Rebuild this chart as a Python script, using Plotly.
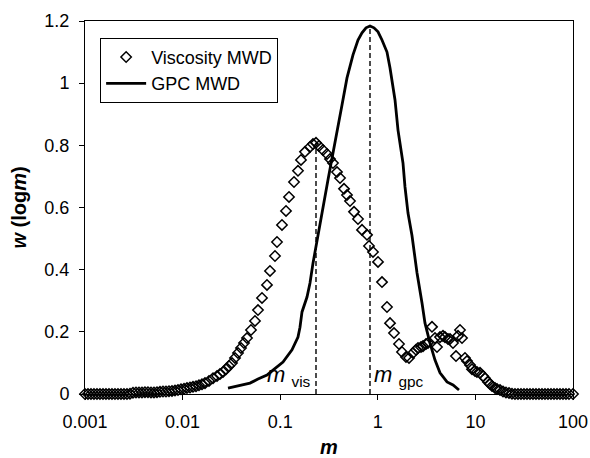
import plotly.graph_objects as go
import numpy as np

# ---- data ----
vis_m = [0.001, 0.001073, 0.001152, 0.001236, 0.001327, 0.001424, 0.001529, 0.001641, 0.001761,
         0.00189, 0.002029, 0.002178, 0.002338, 0.002509, 0.002693, 0.002891, 0.003103, 0.003331,
         0.003575, 0.003837, 0.004118, 0.00442, 0.004745, 0.005093, 0.005466, 0.005867, 0.006298,
         0.00676, 0.007255, 0.007788, 0.008359, 0.008972, 0.00963, 0.01034, 0.01109, 0.01191,
         0.01278, 0.01372, 0.01472, 0.0158,
         0.01696, 0.01864, 0.02049, 0.02252, 0.02416, 0.02594, 0.02784, 0.02988, 0.03207, 0.03443,
         0.03695, 0.03966, 0.04257, 0.04569, 0.05021, 0.05518, 0.05922, 0.06509, 0.07322, 0.07859,
         0.08843, 0.09273, 0.1043, 0.1147, 0.1231, 0.1385, 0.1522, 0.1633, 0.1795, 0.202, 0.2168,
         0.2327, 0.2497, 0.2745, 0.3017, 0.3238, 0.3475, 0.3819, 0.41, 0.4505, 0.4835, 0.519,
         0.5704, 0.6268, 0.6889, 0.775, 0.8126, 0.8929, 1.005, 1.104, 1.242, 1.334, 1.466, 1.649,
         1.77, 1.945, 2.088, 2.294, 2.463, 2.582, 2.771, 2.905, 3.118, 3.268, 3.592, 3.855, 4.042,
         4.338, 4.656, 4.881, 5.24, 5.493, 5.895, 6.327, 6.633, 6.954, 7.291, 7.825, 8.203, 8.805,
         9.231, 9.906, 10.38, 11.15, 11.96, 12.54, 13.46, 14.11, 14.8, 15.88, 16.65, 17.87, 19.18,
         20.58, 22.1, 23.71, 25.45, 27.32, 29.32, 31.47, 33.78, 36.26, 38.92, 41.77, 44.83, 48.13,
         51.66, 55.45, 59.51, 63.87, 68.56, 73.59, 78.98, 84.78, 90.99, 100.0]
vis_w = [0, 0, 0, 0, 0, 0, 0, 0, 0,
         0, 0, 0, 0, 0, 0, 0.001, 0.004, 0.005,
         0.005, 0.005, 0.006, 0.006, 0.005, 0.005, 0.006, 0.007, 0.008,
         0.008, 0.009, 0.01, 0.011, 0.013, 0.015, 0.017, 0.019, 0.021,
         0.023, 0.025, 0.028, 0.031,
         0.035, 0.042, 0.051, 0.058, 0.064, 0.071, 0.08, 0.09, 0.1, 0.116,
         0.132, 0.148, 0.164, 0.18, 0.206, 0.235, 0.27, 0.309, 0.351, 0.396,
         0.444, 0.489, 0.544, 0.589, 0.634, 0.682, 0.718, 0.753, 0.779, 0.795, 0.804,
         0.808, 0.798, 0.785, 0.772, 0.756, 0.743, 0.714, 0.695, 0.66, 0.64, 0.621,
         0.586, 0.563, 0.528, 0.512, 0.476, 0.457, 0.425, 0.36, 0.28, 0.228, 0.196, 0.161,
         0.135, 0.119, 0.116, 0.132, 0.142, 0.148, 0.151, 0.154, 0.161, 0.164, 0.216, 0.18, 0.151,
         0.183, 0.187, 0.183, 0.177, 0.177, 0.164, 0.122, 0.187, 0.206, 0.18, 0.116, 0.106, 0.093,
         0.08, 0.074, 0.071, 0.068, 0.058, 0.051, 0.039, 0.032, 0.026, 0.019, 0.016, 0.013, 0.008,
         0.005, 0.003, 0.001, 0, 0, 0, 0, 0, 0, 0, 0, 0, 0,
         0, 0, 0, 0, 0, 0, 0, 0, 0, 0]

gpc_m = [0.02919, 0.03873, 0.04904, 0.05922, 0.07322, 0.08438, 0.1068, 0.1321, 0.1522, 0.1595,
         0.1673, 0.1882, 0.202, 0.2168, 0.2382, 0.2681, 0.3089, 0.3475, 0.3911, 0.4297, 0.4835,
         0.557, 0.6268, 0.6889, 0.757, 0.832, 0.9143, 1.005, 1.104, 1.242, 1.334, 1.431, 1.501,
         1.611, 1.812, 1.9, 2.039, 2.24, 2.521, 2.838, 3.045, 3.426, 3.855, 4.338, 5.117, 5.895,
         6.792]
gpc_w = [0.019, 0.029, 0.035, 0.048, 0.061, 0.077, 0.103, 0.142, 0.183, 0.215,
         0.264, 0.312, 0.357, 0.421, 0.495, 0.582, 0.689, 0.775, 0.856, 0.93, 1.017,
         1.091, 1.139, 1.162, 1.178, 1.184, 1.178, 1.165, 1.139, 1.1, 1.049, 0.994, 0.946,
         0.849, 0.743, 0.666, 0.582, 0.51, 0.39, 0.293, 0.228, 0.164, 0.109, 0.068, 0.039, 0.029,
         0.013]

m_vis = 0.2327
w_vis_peak = 0.808
m_gpc = 0.832
w_gpc_peak = 1.184

x_tickvals = [0.001, 0.01, 0.1, 1, 10, 100]
x_ticktext = ["0.001", "0.01", "0.1", "1", "10", "100"]
y_tickvals = [0, 0.2, 0.4, 0.6, 0.8, 1.0, 1.2]
y_ticktext = ["0", "0.2", "0.4", "0.6", "0.8", "1", "1.2"]

FONT = "Liberation Sans, Arial, sans-serif"

fig = go.Figure()
fig.add_trace(go.Scatter(
    x=vis_m, y=vis_w, mode="markers", name="Viscosity MWD",
    marker=dict(symbol="diamond-open", size=8, color="black", line=dict(width=1.5, color="black")),
    cliponaxis=False))
fig.add_trace(go.Scatter(
    x=gpc_m, y=gpc_w, mode="lines", name="GPC MWD",
    line=dict(color="black", width=2.8), cliponaxis=False))
fig.add_trace(go.Scatter(
    x=[m_vis, m_vis], y=[0, w_vis_peak], mode="lines", showlegend=False,
    line=dict(color="black", width=1.4, dash="5px,3px")))
fig.add_trace(go.Scatter(
    x=[m_gpc, m_gpc], y=[0, w_gpc_peak], mode="lines", showlegend=False,
    line=dict(color="black", width=1.4, dash="5px,3px")))

fig.add_annotation(x=np.log10(m_vis), y=0, xref="x", yref="y",
                   text="<i>m</i> <sub>vis</sub>", showarrow=False,
                   xanchor="right", yanchor="bottom", xshift=-3, yshift=2,
                   font=dict(family=FONT, size=22, color="black"))
fig.add_annotation(x=np.log10(m_gpc), y=0, xref="x", yref="y",
                   text="<i>m</i> <sub>gpc</sub>", showarrow=False,
                   xanchor="left", yanchor="bottom", xshift=2, yshift=2,
                   font=dict(family=FONT, size=22, color="black"))

fig.update_layout(
    width=590, height=458,
    margin=dict(l=85, r=17, t=21, b=64, autoexpand=False),
    paper_bgcolor="white", plot_bgcolor="white",
    font=dict(family=FONT, size=18, color="black"),
    showlegend=True,
    legend=dict(x=0.031, y=0.955, xanchor="left", yanchor="top",
                bordercolor="black", borderwidth=1, bgcolor="white",
                font=dict(family=FONT, size=18, color="black"),
                itemwidth=40, tracegroupgap=0,
                entrywidth=144, entrywidthmode="pixels"),
    xaxis=dict(type="log", range=[-3, 2], tickvals=x_tickvals, ticktext=x_ticktext,
               showgrid=False, zeroline=False, showline=True, linecolor="black", linewidth=1,
               mirror=True, ticks="outside", ticklen=5, tickcolor="black",
               ticklabelstandoff=6, automargin=False,
               tickfont=dict(family=FONT, size=18),
               title=dict(text="<b><i>m</i></b>", font=dict(family=FONT, size=20), standoff=16)),
    yaxis=dict(range=[0, 1.2], tickvals=y_tickvals, ticktext=y_ticktext,
               showgrid=False, zeroline=False, showline=True, linecolor="black", linewidth=1,
               mirror=True, ticks="outside", ticklen=5, tickcolor="black",
               ticklabelstandoff=6, automargin=False,
               tickfont=dict(family=FONT, size=18),
               title=dict(text="<b><i>w</i> (log<i>m</i>)</b>", font=dict(family=FONT, size=20), standoff=12)),
)

fig.write_html("out.html", config={"displayModeBar": False},
               post_script="document.body.style.margin='0px';")
